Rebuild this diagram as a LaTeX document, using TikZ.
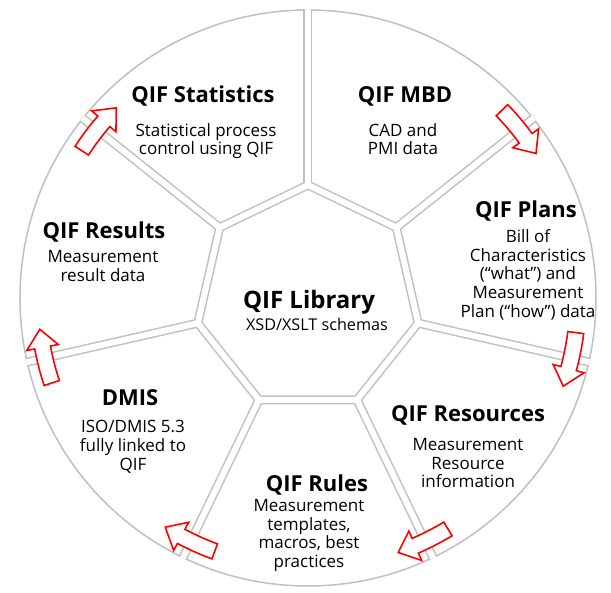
\documentclass[tikz,border=0pt]{standalone}
\usepackage{fontspec}
\setmainfont{Open Sans}
\usepackage{tikz}
\usepackage{xcolor}
\usetikzlibrary{positioning,arrows.meta,calc}
\definecolor{seamgrey}{RGB}{192,192,192}
\definecolor{flowred}{RGB}{255,0,0}
\newcommand{\titlefont}{\fontsize{22}{24}\selectfont\bfseries}
\newcommand{\bodyfont}{\fontsize{17}{18.8}\selectfont}
% curved arrow sitting on the rim, pointing clockwise across a seam
\newcommand{\rimarrow}[1]{%
  \draw[flowarrow] ({#1+5.5}:278) arc[start angle={#1+5.5}, end angle={#1-2.3}, radius=278]
    -- ({#1-2.3}:286) -- ({#1-6.2}:270) -- ({#1-2.3}:254) -- ({#1-2.3}:262)
    arc[start angle={#1-2.3}, end angle={#1+5.5}, radius=262] -- cycle;}

\begin{document}
\begin{tikzpicture}[x=1pt,y=1pt,
    gapgrey/.style={draw=seamgrey, line width=9pt, line join=miter},
    gapwhite/.style={draw=white, line width=6pt, line join=miter},
    flowarrow/.style={draw=flowred, fill=white, line width=1.6pt, line join=miter},
    title/.style={font=\titlefont, inner sep=0pt, anchor=base},
    body/.style={font=\bodyfont, align=center, inner sep=0pt, anchor=north}]
    \fill[white] (-308,-295) rectangle (303,298);
    \useasboundingbox (-308,-295) rectangle (303,298);

    % Outer rim and the gaps between the parts
    \draw[seamgrey, line width=1.5pt] (0,0) circle (288);
    \begin{scope}
        \clip (0,0) circle (288.75);
        \foreach \st in {gapgrey,gapwhite} {
            \draw[\st] (90:113) \foreach \k in {1,...,6} { -- ({90+360/7*\k}:113) } -- cycle;
            \foreach \k in {0,...,6}
                \draw[\st] ({90+360/7*\k}:113) -- ({90+360/7*\k}:300);
        }
    \end{scope}

    % Arrows between neighbouring parts
    \foreach \k in {1,...,6} {
        \pgfmathsetmacro{\ang}{90+360/7*\k}
        \rimarrow{\ang}
    }

    % Centre
    \node[title, font=\fontsize{24}{26}\selectfont\bfseries] (lib) at (1,-11) {QIF Library};
    \node[font=\fontsize{16.2}{18}\selectfont, inner sep=0pt, anchor=base] (libtext) at (9,-33) {XSD/XSLT schemas};

    % Parts around the centre
    \node[title] (stats) at (-105,195) {QIF Statistics};
    \node[body] (statstext) at (-102,175) {Statistical process\\control using QIF};

    \node[title] (mbd) at (97,195) {QIF MBD};
    \node[body] (mbdtext) at (95,175) {CAD and\\PMI data};

    \node[title] (plans) at (218,80) {QIF Plans};
    \node[body] (planstext) at (220,69) {Bill of\\Characteristics\\(“what”) and\\Measurement\\Plan (“how”) data};

    \node[title] (res) at (160,-124) {QIF Resources};
    \node[body] (restext) at (160,-140) {Measurement\\Resource\\information};

    \node[title] (rules) at (9,-194) {QIF Rules};
    \node[body] (rulestext) at (1,-201) {Measurement\\templates,\\macros, best\\practices};

    \node[title] (dmis) at (-178,-108) {DMIS};
    \node[body] (dmistext) at (-175,-122) {ISO/DMIS 5.3\\fully linked to\\QIF};

    \node[title] (results) at (-204,59) {QIF Results};
    \node[body] (resultstext) at (-205,48) {Measurement\\result data};
\end{tikzpicture}
\end{document}
